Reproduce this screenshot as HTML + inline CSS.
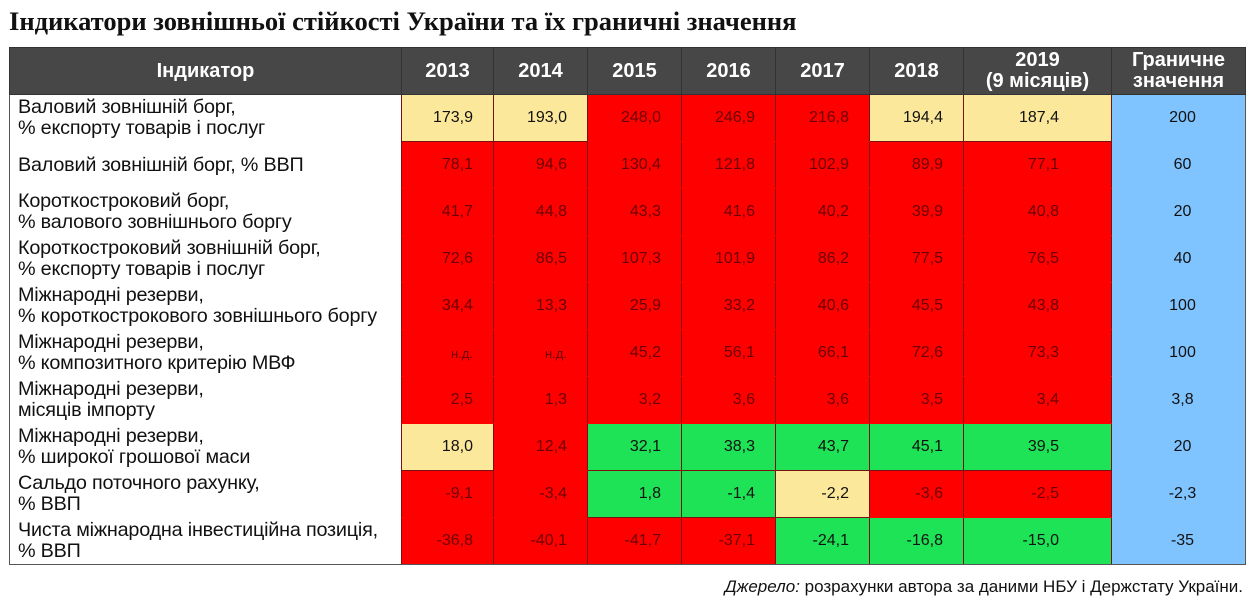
<!DOCTYPE html>
<html><head><meta charset="utf-8">
<style>
body{margin:0;width:1251px;height:604px;background:#fff;position:relative;overflow:hidden;font-family:"Liberation Sans",Arial,sans-serif}
#title{position:absolute;left:9px;top:6px;font-family:"Liberation Serif",serif;font-weight:bold;font-size:26.5px;color:#111;white-space:nowrap}
table{position:absolute;left:9px;top:47px;border-collapse:collapse;table-layout:fixed}
th{background:#474747;color:#fff;font-weight:bold;font-size:20px;height:46px;padding:0;border:1px solid #333;line-height:21px}
td{height:46px;padding:0;font-size:16px;border:1px solid #7a1010;color:#111}
td.lab{background:#fff;font-size:19.8px;line-height:21px;padding-left:8px;border:none;border-left:1px solid #555;color:#111;white-space:nowrap;letter-spacing:-0.2px}
td.v{text-align:right;padding-right:20px}
td.v19{padding-right:52px}
td.lim{background:#80c4ff;text-align:center;border:none;border-right:1px solid #555;color:#111;padding-left:8px}
td.R{background:#ff0000;color:#6a0000;border-top-color:#ff0000;border-bottom-color:#ff0000}
td.Y{background:#fce89a}
td.G{background:#1ee356}
tr:last-child td{border-bottom:1px solid #555}
#src{position:absolute;right:8px;top:577px;font-size:17px;color:#111;white-space:nowrap}
</style></head><body>
<div id="title">Індикатори зовнішньої стійкості України та їх граничні значення</div>
<table id="tbl">
<colgroup><col style="width:392px"><col style="width:92px"><col style="width:94px"><col style="width:94px"><col style="width:94px"><col style="width:94px"><col style="width:94px"><col style="width:148px"><col style="width:134px"></colgroup>
<thead><tr id="hdr"></tr></thead>
<tbody id="body"></tbody>
</table>
<div id="src"><i>Джерело:</i> розрахунки автора за даними НБУ і Держстату України.</div>
<script>
const headers=["Індикатор","2013","2014","2015","2016","2017","2018","2019<br>(9 місяців)","Граничне<br>значення"];
const labels=[
"Валовий зовнішній борг,<br>% експорту товарів і послуг",
"Валовий зовнішній борг, % ВВП",
"Короткостроковий борг,<br>% валового зовнішнього боргу",
"Короткостроковий зовнішній борг,<br>% експорту товарів і послуг",
"Міжнародні резерви,<br>% короткострокового зовнішнього боргу",
"Міжнародні резерви,<br>% композитного критерію МВФ",
"Міжнародні резерви,<br>місяців імпорту",
"Міжнародні резерви,<br>% широкої грошової маси",
"Сальдо поточного рахунку,<br>% ВВП",
"Чиста міжнародна інвестиційна позиція,<br>% ВВП"];
const values=[
["173,9","193,0","248,0","246,9","216,8","194,4","187,4"],
["78,1","94,6","130,4","121,8","102,9","89,9","77,1"],
["41,7","44,8","43,3","41,6","40,2","39,9","40,8"],
["72,6","86,5","107,3","101,9","86,2","77,5","76,5"],
["34,4","13,3","25,9","33,2","40,6","45,5","43,8"],
["н.д.","н.д.","45,2","56,1","66,1","72,6","73,3"],
["2,5","1,3","3,2","3,6","3,6","3,5","3,4"],
["18,0","12,4","32,1","38,3","43,7","45,1","39,5"],
["-9,1","-3,4","1,8","-1,4","-2,2","-3,6","-2,5"],
["-36,8","-40,1","-41,7","-37,1","-24,1","-16,8","-15,0"]];
const statuses=["YYRRRYY","RRRRRRR","RRRRRRR","RRRRRRR","RRRRRRR","RRRRRRR","RRRRRRR","YRGGGGG","RRGGYRR","RRRRGGG"];
const limits=["200","60","20","40","100","100","3,8","20","-2,3","-35"];
const hdr=document.getElementById('hdr');
headers.forEach((h,i)=>{const th=document.createElement('th');th.innerHTML=h;


hdr.appendChild(th);});
const body=document.getElementById('body');
labels.forEach((l,r)=>{const tr=document.createElement('tr');


const td=document.createElement('td');td.className='lab';td.innerHTML=l;


tr.appendChild(td);
values[r].forEach((v,c)=>{const d=document.createElement('td');
d.className='v '+statuses[r][c]+(c===6?' v19':'');
if(v==='н.д.')d.style.fontSize='13px';
d.textContent=v;


tr.appendChild(d);});
const lim=document.createElement('td');lim.className='lim';lim.textContent=limits[r];


tr.appendChild(lim);body.appendChild(tr);});
</script>
</body></html>
